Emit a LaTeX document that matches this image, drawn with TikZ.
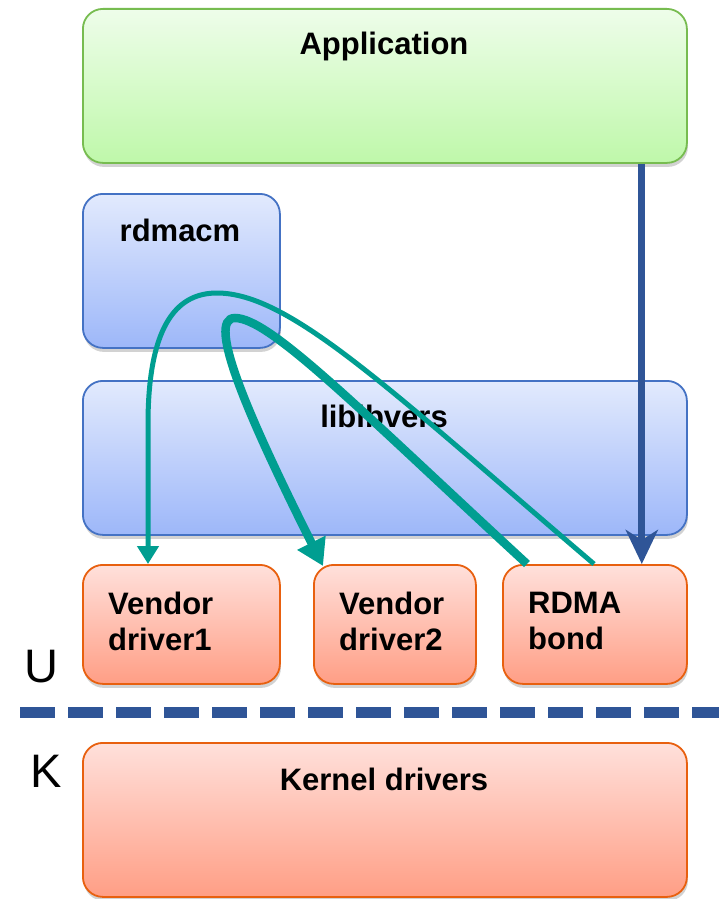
\documentclass[tikz,border=0pt]{standalone}
\usepackage{fontspec}
\setmainfont{Liberation Sans}
\usetikzlibrary{arrows.meta,shadows}
\definecolor{greentop}{HTML}{EEFDEA}
\definecolor{greenbot}{HTML}{BFF8AA}
\definecolor{greenline}{HTML}{77BC50}
\definecolor{bluetop}{HTML}{E2EAFD}
\definecolor{bluebot}{HTML}{9DB7F9}
\definecolor{blueline}{HTML}{4472C4}
\definecolor{redtop}{HTML}{FFE0DB}
\definecolor{redbot}{HTML}{FF9E85}
\definecolor{redline}{HTML}{E8600F}
\definecolor{navy}{HTML}{2F5597}
\definecolor{tealc}{HTML}{009E91}
\begin{document}
\begin{tikzpicture}[x=1pt,y=1pt,
  box/.style={rounded corners=20pt, anchor=north west, inner sep=0pt, line width=1.8pt,
    drop shadow={opacity=0.35, shadow xshift=1pt, shadow yshift=-4pt}},
  greenbox/.style={box, draw=greenline, top color=greentop, bottom color=greenbot},
  bluebox/.style={box, draw=blueline, top color=bluetop, bottom color=bluebot},
  redbox/.style={box, draw=redline, top color=redtop, bottom color=redbot},
  lbl/.style={font=\fontsize{31}{36}\selectfont\bfseries, inner sep=0pt},
  side/.style={font=\fontsize{47}{50}\selectfont, inner sep=0pt},
  bluearr/.style={draw=navy, line width=7pt, -{Stealth[length=34pt,width=32pt,inset=10pt]}},
  tealthin/.style={draw=tealc, line width=5pt, -{Triangle[length=18pt,width=21pt]}},
  tealthick/.style={draw=tealc, line width=8.5pt, -{Triangle[length=26pt,width=30pt]}},
  dashline/.style={draw=navy, line width=11pt, dash pattern=on 35pt off 13pt}
]
\useasboundingbox (0,0) rectangle (719,-899);
\fill[white] (0,0) rectangle (719,-899);

% boxes
\node[greenbox, minimum width=604pt, minimum height=154pt] (app) at (82,-8) {};
\node[bluebox, minimum width=197pt, minimum height=154pt] (rdmacm) at (82,-193) {};
\node[bluebox, minimum width=604pt, minimum height=154pt] (verbs) at (82,-380) {};
\node[redbox, minimum width=197pt, minimum height=119pt] (vd1) at (82,-564) {};
\node[redbox, minimum width=162pt, minimum height=119pt] (vd2) at (313,-564) {};
\node[redbox, minimum width=184pt, minimum height=119pt] (rdma) at (502,-564) {};
\node[redbox, minimum width=604pt, minimum height=154pt] (kern) at (82,-742) {};

% texts
\node[lbl, anchor=base] (apptxt) at (384,-55) {Application};
\node[lbl, anchor=base] (rdmacmtxt) at (180,-241) {rdmacm};
\node[lbl, anchor=base] (verbstxt) at (384,-427) {libibvers};
\node[lbl, anchor=north west, align=left] (vd1txt) at (108,-592) {Vendor\\driver1};
\node[lbl, anchor=north west, align=left] (vd2txt) at (339,-592) {Vendor\\driver2};
\node[lbl, anchor=north west, align=left] (rdmatxt) at (528,-592) {RDMA\\bond};
\node[lbl, anchor=base] (kerntxt) at (384,-790) {Kernel drivers};
\node[side, anchor=base] (utxt) at (41,-682) {U};
\node[side, anchor=base] (ktxt) at (46,-787) {K};

% separator
\coordinate (dl) at (20,-712);
\coordinate (dr) at (725,-712);
\draw[dashline] (dl) -- (dr);

% connectors
\draw[bluearr] ([xshift=-46pt]app.south east) -- ([xshift=-46pt]rdma.north east);
\draw[tealthin] ([xshift=92pt]rdma.north west)
  .. controls (390,-390) and (290,-293) .. (217,-293)
  .. controls (180,-293) and (149,-320) .. (148,-420)
  -- ([xshift=66pt]vd1.north west);
\draw[tealthick] ([xshift=25pt]rdma.north west)
  .. controls (360,-410) and (270,-318) .. (235,-318)
  .. controls (205,-318) and (250,-420) .. ([xshift=10pt,yshift=-2pt]vd2.north west);
\end{tikzpicture}
\end{document}
